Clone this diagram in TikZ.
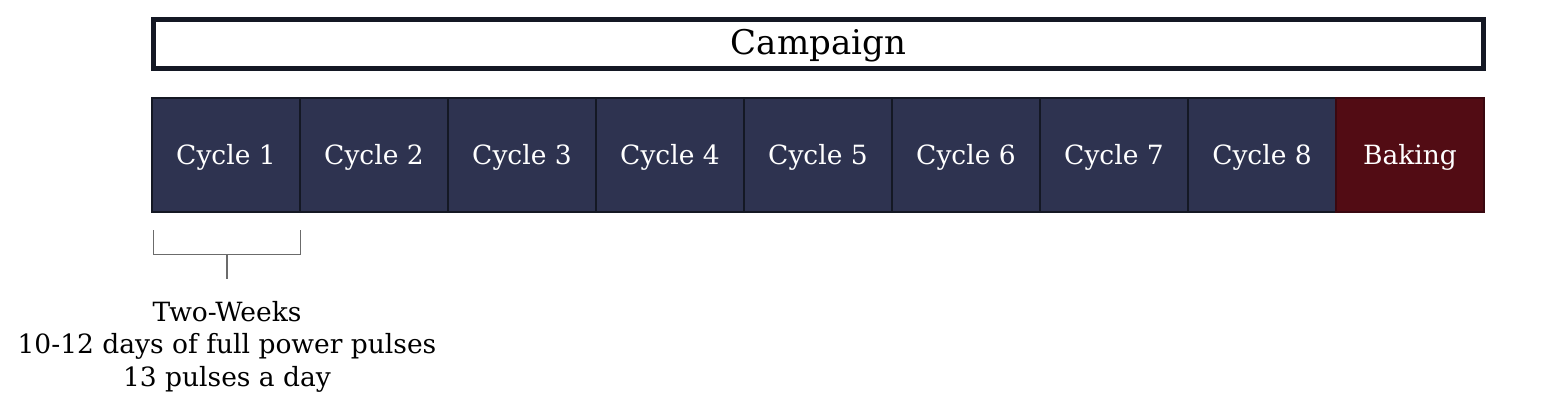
\documentclass[tikz,border=0pt]{standalone}
\usepackage{fontspec}
\setmainfont{DejaVu Serif}
\definecolor{cyclefill}{HTML}{2E3350}
\definecolor{cycleedge}{HTML}{141824}
\definecolor{bakefill}{HTML}{520C14}
\definecolor{bakeedge}{HTML}{3A0810}
\definecolor{bracketgray}{HTML}{6B6B6B}
\tikzset{
  cyclebox/.style={draw=cycleedge, fill=cyclefill, line width=2pt, minimum width=148pt, minimum height=114pt,
    inner sep=0pt, outer sep=0pt, text=white, font=\fontsize{26.5}{30}\selectfont,
    text height=19.3pt, text depth=0pt},
  bakebox/.style={cyclebox, draw=bakeedge, fill=bakefill},
  campbox/.style={draw=cycleedge, line width=5pt, minimum width=1330pt, minimum height=49.5pt, inner sep=0pt,
    font=\fontsize{34}{38}\selectfont, text height=24.8pt, text depth=4.3pt},
  bracketline/.style={draw=bracketgray, line width=1.8pt},
  notetext/.style={align=center, font=\fontsize{26.5}{32.8}\selectfont, inner sep=0pt}
}
\begin{document}
\begin{tikzpicture}[x=1pt,y=-1pt]
\fill[white] (0,0) rectangle (1558,408);
\useasboundingbox (0,0) rectangle (1558,408);
\node[campbox] (campaign) at (818.5,43.75) {Campaign};
\foreach \i in {1,...,8} {
  \node[cyclebox] (c\i) at ({152+74+148*(\i-1)},154.5) {Cycle \i};
}
\node[bakebox] (bake) at ({152+74+148*8},154.5) {Baking};
\coordinate (bl) at (153.5,230);
\coordinate (br) at (300.5,230);
\coordinate (bc) at (227,279);
\node[notetext, anchor=base] (note) at (227,386.7) {Two-Weeks\\10-12 days of full power pulses\\13 pulses a day};
\draw[bracketline] (bl) |- (br |- 0,254.5) -- (br);
\draw[bracketline] (bc |- 0,254.5) -- (bc);
\end{tikzpicture}
\end{document}
